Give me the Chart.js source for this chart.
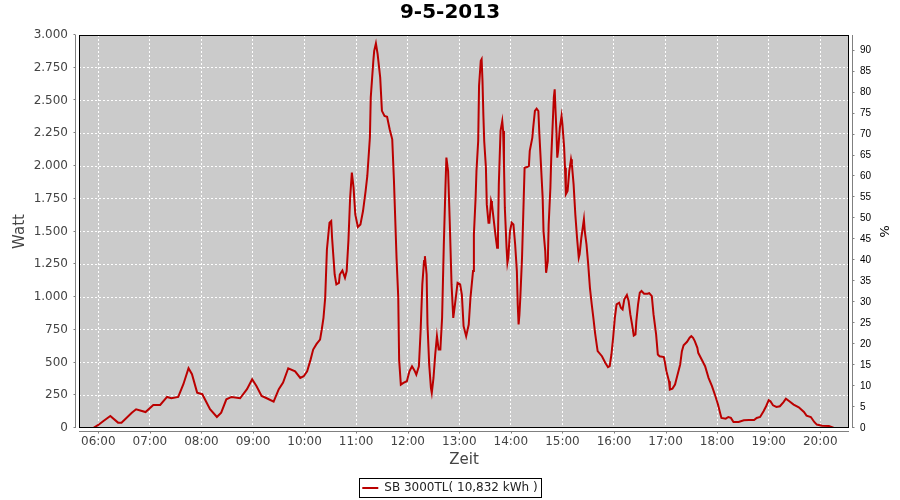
<!DOCTYPE html>
<html>
<head>
<meta charset="utf-8">
<title>9-5-2013</title>
<script src="https://cdn.jsdelivr.net/npm/chart.js@4.4.1/dist/chart.umd.min.js"></script>
<style>
  html, body { margin: 0; padding: 0; background: #fff; overflow: hidden; }
</style>
</head>
<body>
<canvas id="powerChart" width="900" height="500"></canvas>
<script>
// data
const chartTitle = '9-5-2013';
const seriesLabel = 'SB 3000TL( 10,832 kWh )';
const hourTicks = [6, 7, 8, 9, 10, 11, 12, 13, 14, 15, 16, 17, 18, 19, 20];
const percentMax = 93.75; // right axis: 3000 W = 93,75 %

const times = [
  '05:54','06:00','06:06','06:14','06:23','06:27','06:39','06:44','06:55','07:04',
  '07:12','07:20','07:25','07:33','07:39','07:45','07:49','07:55','08:01','08:10',
  '08:18','08:23','08:29','08:35','08:45','08:53','08:59','09:04','09:10','09:16',
  '09:24','09:30','09:35','09:41','09:49','09:55','09:59','10:03','10:07','10:10',
  '10:14','10:18','10:20','10:22','10:24','10:26','10:29','10:31','10:32','10:35',
  '10:37','10:40','10:41','10:44','10:47','10:49','10:51','10:53','10:55','10:57',
  '10:59','11:02','11:05','11:08','11:11','11:13','11:16','11:17','11:20','11:21',
  '11:23','11:25','11:28','11:30','11:33','11:36','11:39','11:42','11:44','11:47',
  '11:49','11:50','11:52','11:55','11:59','12:02','12:05','12:08','12:10','12:13',
  '12:15','12:17','12:19','12:20','12:22','12:23','12:25','12:27','12:28','12:30',
  '12:32','12:34','12:36','12:38','12:40','12:42','12:44','12:45','12:47','12:49',
  '12:51','12:53','12:55','12:58','13:01','13:03','13:05','13:08','13:11','13:13',
  '13:16','13:17','13:19','13:20','13:22','13:23','13:25','13:26','13:27','13:28',
  '13:29','13:31','13:32','13:34','13:35','13:37','13:38','13:40','13:42','13:44',
  '13:45','13:46','13:48','13:50','13:51','13:52','13:53','13:55','13:56','13:57',
  '13:59','14:01','14:03','14:05','14:07','14:08','14:09','14:10','14:11','14:13',
  '14:15','14:16','14:19','14:21','14:22','14:25','14:26','14:28','14:30','14:32',
  '14:33','14:35','14:37','14:38','14:40','14:41','14:43','14:44','14:46','14:47',
  '14:49','14:50','14:51','14:52','14:53','14:54','14:55','14:57','14:59','15:00',
  '15:02','15:03','15:04','15:06','15:08','15:10','15:11','15:13','15:15','15:17',
  '15:19','15:20','15:22','15:25','15:26','15:28','15:30','15:32','15:34','15:36',
  '15:38','15:40','15:41','15:46','15:50','15:53','15:55','15:57','15:59','16:01',
  '16:03','16:06','16:08','16:10','16:12','16:15','16:17','16:19','16:21','16:23',
  '16:25','16:26','16:28','16:30','16:32','16:35','16:39','16:41','16:44','16:46',
  '16:49','16:51','16:53','16:58','16:59','17:01','17:04','17:05','17:08','17:11',
  '17:14','17:17','17:19','17:21','17:25','17:28','17:30','17:32','17:34','17:37',
  '17:38','17:42','17:46','17:50','17:54','17:58','18:01','18:04','18:05','18:10',
  '18:13','18:16','18:19','18:25','18:31','18:37','18:43','18:46','18:50','18:54',
  '18:57','19:00','19:02','19:05','19:09','19:13','19:17','19:20','19:24','19:29',
  '19:35','19:41','19:44','19:49','19:53','19:56','20:02','20:10','20:16'
];

const watts = [
  0, 23, 54, 92, 41, 41, 117, 143, 122, 176,
  176, 237, 227, 237, 334, 456, 411, 270, 258, 143,
  84, 117, 219, 237, 227, 296, 372, 321, 245, 227,
  201, 296, 347, 456, 433, 382, 395, 433, 522, 599,
  642, 675, 752, 841, 994, 1363, 1567, 1580, 1452, 1172,
  1096, 1108, 1172, 1203, 1147, 1198, 1427, 1758, 1949, 1835,
  1631, 1534, 1554, 1656, 1809, 1924, 2217, 2523, 2803, 2879,
  2935, 2854, 2675, 2421, 2382, 2375, 2280, 2204, 1886, 1299,
  994, 522, 331, 344, 357, 433, 471, 438, 408, 471,
  739, 1096, 1274, 1312, 1172, 790, 484, 306, 268, 382,
  561, 701, 599, 599, 841, 1401, 1860, 2064, 1962, 1554,
  1096, 841, 943, 1108, 1096, 1019, 777, 701, 790, 994,
  1198, 1478, 1758, 1962, 2191, 2612, 2803, 2815, 2650, 2395,
  2191, 1987, 1707, 1567, 1567, 1733, 1707, 1593, 1478, 1376,
  1452, 1860, 2268, 2344, 2268, 2013, 1682, 1376, 1261, 1299,
  1503, 1567, 1554, 1401, 1198, 943, 790, 866, 994, 1299,
  1758, 1987, 1992, 2000, 2115, 2217, 2293, 2420, 2438, 2420,
  2268, 2013, 1758, 1503, 1350, 1185, 1274, 1554, 1835, 2064,
  2370, 2523, 2586, 2420, 2268, 2064, 2115, 2293, 2382, 2318,
  2140, 1987, 1784, 1809, 1962, 2051, 2013, 1860, 1631, 1452,
  1299, 1325, 1452, 1593, 1503, 1401, 1249, 1070, 950, 840,
  725, 630, 587, 548, 497, 464, 472, 561, 689, 842,
  944, 956, 918, 905, 982, 1015, 969, 867, 791, 706,
  714, 816, 944, 1033, 1046, 1025, 1025, 1030, 1007, 867,
  714, 561, 548, 541, 510, 434, 357, 293, 301, 332,
  408, 485, 587, 632, 658, 689, 701, 689, 663, 612,
  574, 523, 472, 383, 319, 242, 179, 102, 77, 71,
  84, 77, 46, 46, 59, 61, 61, 77, 84, 128,
  166, 212, 204, 173, 161, 166, 196, 224, 204, 179,
  158, 122, 94, 84, 46, 26, 18, 15, 0
];

function toHours(hhmm) {
  const [h, m] = hhmm.split(':').map(Number);
  return h + m / 60;
}

const points = times.map((t, i) => ({ x: toHours(t), y: watts[i] }));

Chart.defaults.font.family = '"DejaVu Sans", sans-serif';
Chart.defaults.font.size = 12;
Chart.defaults.color = '#444';

// grey plot background, black outline, JFreeChart-like offset axis lines
const plotFrame = {
  id: 'plotFrame',
  beforeDraw(chart) {
    const { ctx, chartArea: a } = chart;
    ctx.save();
    ctx.fillStyle = '#cbcbcb';
    ctx.fillRect(a.left, a.top, a.right - a.left, a.bottom - a.top);
    ctx.restore();
  },
  afterDraw(chart) {
    const { ctx, chartArea: a, scales } = chart;
    ctx.save();
    ctx.lineWidth = 1;
    ctx.strokeStyle = '#000';
    ctx.strokeRect(a.left + 0.5, a.top + 0.5, a.right - a.left - 1, a.bottom - a.top - 1);

    ctx.strokeStyle = '#808080';
    ctx.beginPath();
    // left axis
    const lx = a.left - 3.5;
    ctx.moveTo(lx, a.top); ctx.lineTo(lx, a.bottom);
    scales.y.ticks.forEach(t => {
      const py = Math.round(scales.y.getPixelForValue(t.value)) - 0.5;
      ctx.moveTo(lx - 2, py); ctx.lineTo(lx, py);
    });
    // right axis
    const rx = a.right + 3.5;
    ctx.moveTo(rx, a.top); ctx.lineTo(rx, a.bottom);
    scales.y1.ticks.forEach(t => {
      const py = Math.round(scales.y1.getPixelForValue(t.value)) - 0.5;
      ctx.moveTo(rx, py); ctx.lineTo(rx + 2, py);
    });
    // bottom axis
    const by = a.bottom + 3.5;
    ctx.moveTo(a.left, by); ctx.lineTo(a.right, by);
    scales.x.ticks.forEach(t => {
      const px = Math.round(scales.x.getPixelForValue(t.value)) + 0.5;
      ctx.moveTo(px, by); ctx.lineTo(px, by + 2);
    });
    ctx.stroke();

    // box round the legend
    const hb = chart.legend.legendHitBoxes[0];
    if (hb) {
      ctx.strokeStyle = '#000';
      ctx.strokeRect(Math.round(hb.left) - 2.5, Math.round(hb.top) - 3.5,
        Math.round(hb.width) + 7, Math.round(hb.height) + 7);
    }
    ctx.restore();
  }
};

new Chart(document.getElementById('powerChart'), {
  type: 'line',
  data: {
    datasets: [{
      label: seriesLabel,
      data: points,
      borderColor: '#bb0000',
      backgroundColor: '#bb0000',
      borderWidth: 2,
      pointRadius: 0,
      tension: 0,
      yAxisID: 'y'
    }]
  },
  options: {
    responsive: false,
    animation: false,
    layout: { padding: { top: 0, left: 0, right: 0, bottom: -4 } },
    plugins: {
      title: {
        display: true,
        text: chartTitle,
        color: '#000',
        font: { size: 20, weight: 'bold' },
        padding: { top: 1, bottom: 10 }
      },
      legend: {
        position: 'bottom',
        labels: {
          usePointStyle: true,
          pointStyle: 'line',
          pointStyleWidth: 16,
          color: '#222',
          padding: 3,
          font: { size: 12 }
        }
      },
      tooltip: { enabled: false }
    },
    scales: {
      x: {
        type: 'linear',
        min: 5.626,
        max: 20.557,
        afterBuildTicks: scale => { scale.ticks = hourTicks.map(h => ({ value: h })); },
        afterFit: scale => { scale.height = 51; },
        ticks: {
          padding: 7,
          maxRotation: 0,
          callback: v => String(v).padStart(2, '0') + ':00'
        },
        grid: { color: '#fff', drawTicks: false },
        border: { display: false, dash: [2, 2] },
        title: { display: true, text: 'Zeit', font: { size: 15 }, padding: { top: 0, bottom: 10 } }
      },
      y: {
        position: 'left',
        min: 0,
        max: 3000,
        afterFit: scale => { scale.width = 79; },
        ticks: {
          stepSize: 250,
          padding: 11,
          callback: v => v.toLocaleString('de-DE')
        },
        grid: { color: '#fff', drawTicks: false },
        border: { display: false, dash: [2, 2] },
        title: { display: true, text: 'Watt', font: { size: 15 }, padding: { top: 11, bottom: 0 } }
      },
      y1: {
        position: 'right',
        min: 0,
        max: percentMax,
        afterBuildTicks: scale => { scale.ticks = scale.ticks.filter(t => t.value % 5 === 0 && t.value <= 90); },
        afterFit: scale => { scale.width = 51; },
        ticks: {
          stepSize: 5,
          padding: 11,
          color: '#000',
          font: { family: '"Liberation Sans", sans-serif', size: 10 }
        },
        grid: { display: false, drawTicks: false },
        border: { display: false },
        title: { display: true, text: '%', color: '#000', font: { size: 13 }, padding: { top: 9, bottom: 0 } }
      }
    }
  },
  plugins: [plotFrame]
});
</script>
</body>
</html>
